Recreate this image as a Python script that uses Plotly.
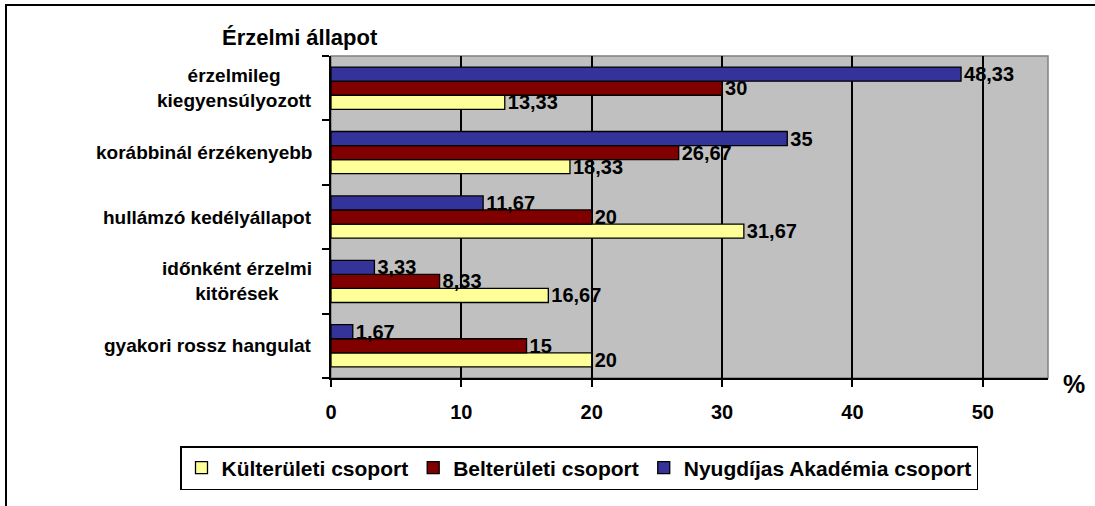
import plotly.graph_objects as go

# categories, bottom to top as drawn on the axis
categories = [
    "gyakori rossz hangulat",
    "időnként érzelmi<br>kitörések",
    "hullámzó kedélyállapot",
    "korábbinál érzékenyebb",
    "érzelmileg<br>kiegyensúlyozott",
]
kulteruleti = [20, 16.67, 31.67, 18.33, 13.33]
belteruleti = [15, 8.33, 20, 26.67, 30]
nyugdijas = [1.67, 3.33, 11.67, 35, 48.33]

series = [
    ("Külterületi csoport", kulteruleti, "#FFFF99"),
    ("Belterületi csoport", belteruleti, "#800000"),
    ("Nyugdíjas Akadémia csoport", nyugdijas, "#333399"),
]
x_ticks = [0, 10, 20, 30, 40, 50]

FONT = "Liberation Sans, Arial, sans-serif"
W, H = 1095, 506
L, R, T, B = 331, 47, 56, 128
pw, ph = W - L - R, H - T - B


def px_x(p):
    return (p - L) / pw


def px_y(p):
    return 1 - (p - T) / ph


def fmt(v):
    return f"{v:g}".replace(".", ",")


fig = go.Figure()
for name, vals, col in series:
    fig.add_trace(go.Bar(
        y=categories, x=vals, name=name, orientation="h",
        marker=dict(color=col, line=dict(color="black", width=1.3)),
        text=[fmt(v) for v in vals], textposition="outside",
        textfont=dict(family=FONT, size=20, color="black", weight="bold"),
        constraintext="none", cliponaxis=False,
    ))

# category labels: right-aligned block, centred lines
for c in categories:
    fig.add_annotation(
        text=c, xref="paper", yref="y", x=px_x(314), y=c,
        xanchor="right", align="center", showarrow=False,
        font=dict(family=FONT, size=19, color="black", weight="bold"),
    )

fig.add_annotation(text="Érzelmi állapot", xref="paper", yref="paper",
                   x=px_x(220), y=px_y(37), xanchor="left", yanchor="middle",
                   showarrow=False,
                   font=dict(family=FONT, size=22, color="black", weight="bold"))
fig.add_annotation(text="%", xref="paper", yref="paper",
                   x=px_x(1074), y=px_y(384), xanchor="center", yanchor="middle",
                   showarrow=False,
                   font=dict(family=FONT, size=25, color="black", weight="bold"))

# gray top/right border of the plot area
fig.add_shape(type="rect", xref="paper", yref="paper", x0=0, x1=1, y0=0, y1=1,
              line=dict(color="#808080", width=1.5), layer="below")
# outer chart frame (only left/top visible)
fig.add_shape(type="rect", xref="paper", yref="paper",
              x0=px_x(6), x1=px_x(1200), y0=px_y(600), y1=px_y(5),
              line=dict(color="black", width=2))

fig.update_layout(
    width=W, height=H, autosize=False,
    margin=dict(l=L, r=R, t=T, b=B, autoexpand=False),
    paper_bgcolor="white", plot_bgcolor="#C0C0C0",
    barmode="group", bargap=0.345, bargroupgap=0,
    showlegend=True,
    legend=dict(orientation="h", x=px_x(180), xanchor="left",
                y=px_y(446), yanchor="top", traceorder="normal",
                bordercolor="black", borderwidth=1.5, bgcolor="white",
                font=dict(family=FONT, size=21, color="black", weight="bold")),
    xaxis=dict(range=[0, 55], tickvals=x_ticks, ticktext=[str(t) for t in x_ticks],
               showgrid=True, gridcolor="black", gridwidth=1.5,
               showline=True, linecolor="black", linewidth=1.5,
               ticks="outside", ticklen=7, tickwidth=1.5, tickcolor="black",
               ticklabelstandoff=8, zeroline=False,
               tickfont=dict(family=FONT, size=20, color="black", weight="bold")),
    yaxis=dict(type="category", categoryorder="array", categoryarray=categories,
               showticklabels=False, showgrid=False,
               showline=True, linecolor="black", linewidth=1.5,
               ticks="outside", ticklen=7, tickwidth=1.5, tickcolor="black",
               tickson="boundaries"),
)

fig.write_html("out.html", config={"displayModeBar": False},
               post_script="document.body.style.margin='0';"
                           "document.body.style.overflow='hidden';")
